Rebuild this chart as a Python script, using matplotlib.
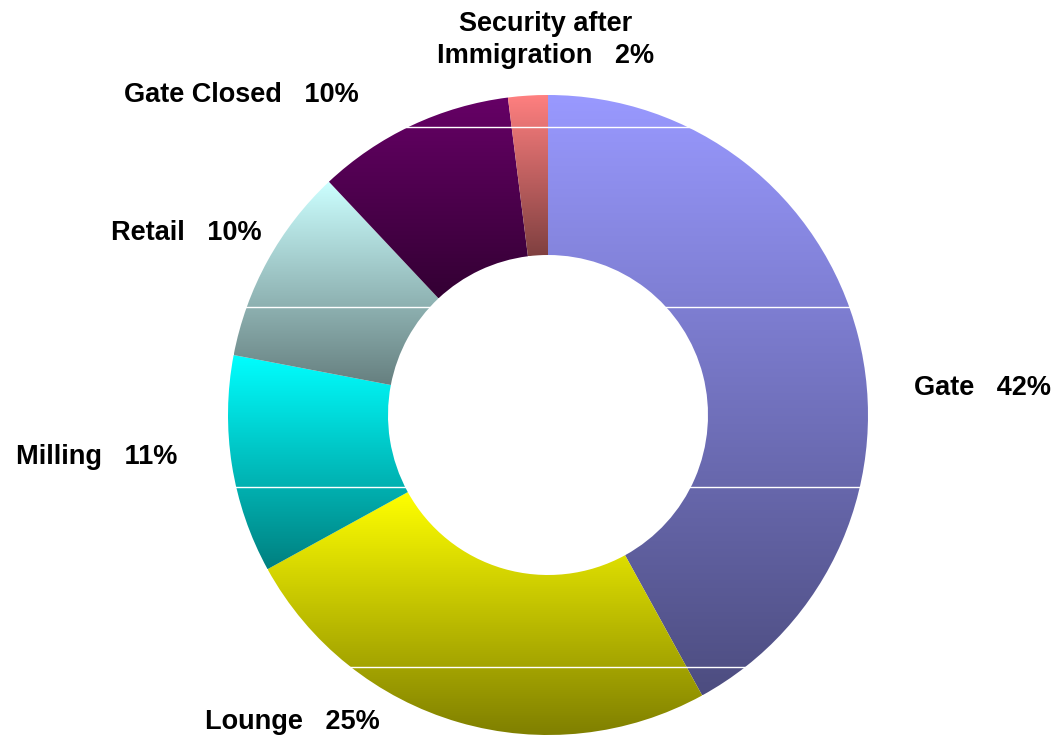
import matplotlib
matplotlib.use('Agg')
import matplotlib.pyplot as plt
import numpy as np
from matplotlib.colors import to_rgb

categories = ['Gate', 'Lounge', 'Milling', 'Retail', 'Gate Closed',
              'Security after\nImmigration']
values = [42, 25, 11, 10, 10, 2]
colors = ['#9999FF', '#FFFF00', '#00FFFF', '#CCFFFF', '#660066', '#FF8080']

# label placement in pixel coords (x, y from top)
label_pos = [(983, 388), (292, 722), (97, 457), (186, 233), (241, 95),
             (546, 40)]

W, H = 1057, 737


def main():
    fig = plt.figure(figsize=(W / 100, H / 100), dpi=100)
    ax = fig.add_axes([0, 0, 1, 1])

    cx, cy, r = 548, H - 415, 320
    wedges, _ = ax.pie(values, radius=r, center=(cx, cy), startangle=90,
                       counterclock=False, frame=True,
                       wedgeprops=dict(width=160, linewidth=0))

    for w, c in zip(wedges, colors):
        w.set_facecolor('none')
        ext = w.get_path().get_extents()
        top = np.array(to_rgb(c))
        t = np.linspace(0, 1, 256)[:, None]
        grad = top * (1 - t) + top * 0.5 * t
        img = ax.imshow(grad[::-1, None, :], extent=(ext.x0, ext.x1, ext.y0, ext.y1),
                        origin='lower', aspect='auto', interpolation='bilinear',
                        zorder=1)
        img.set_clip_path(w)

    # faint white banding lines seen in the original render
    for yy in [127, 307, 487, 667]:
        ax.axhline(H - yy, color='white', lw=1.0, zorder=2)

    for name, v, (x, y) in zip(categories, values, label_pos):
        ax.text(x, H - y, f'{name}   {v}%', ha='center', va='center',
                fontsize=19.5, fontweight='bold', family='Liberation Sans',
                linespacing=1.3, zorder=3)

    ax.set_xlim(0, W)
    ax.set_ylim(0, H)
    ax.set_aspect('auto')
    ax.axis('off')

    plt.savefig('out.png', dpi=100)


if __name__ == "__main__":
    main()
